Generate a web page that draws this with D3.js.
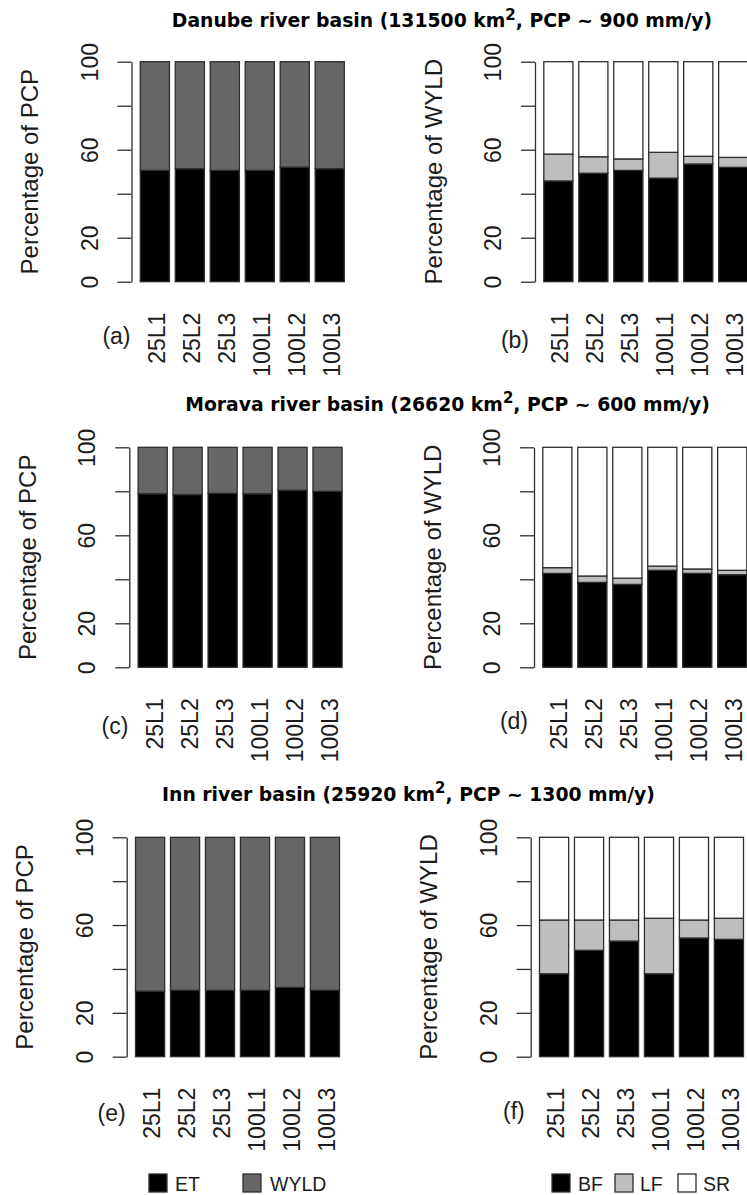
<!DOCTYPE html>
<html>
<head>
<meta charset="utf-8">
<script src="https://cdn.jsdelivr.net/npm/d3@7"></script>
<style>
  html, body { margin: 0; padding: 0; background: #fff; }
  svg { display: block; }
</style>
</head>
<body>
<script>
// Scenario labels shared by every panel
const categories = ["25L1", "25L2", "25L3", "100L1", "100L2", "100L3"];
const yTicks = [0, 20, 40, 60, 80, 100];
const yTickLabels = ["0", "20", "", "60", "", "100"];

// Water balance as percentage of precipitation (ET / WYLD)
const etDanube   = [50.6, 51.4, 50.6, 50.6, 52.1, 51.4];
const wyldDanube = [49.4, 48.6, 49.4, 49.4, 47.9, 48.6];
const etMorava   = [78.9, 78.5, 79.1, 78.9, 80.5, 80.0];
const wyldMorava = [21.1, 21.5, 20.9, 21.1, 19.5, 20.0];
const etInn      = [29.9, 30.3, 30.3, 30.3, 31.6, 30.3];
const wyldInn    = [70.1, 69.7, 69.7, 69.7, 68.4, 69.7];

// Water yield components as percentage of WYLD (BF / LF / SR)
const bfDanube = [45.8, 49.3, 50.6, 47.1, 53.5, 52.0];
const lfDanube = [12.2, 7.5, 5.2, 11.7, 3.5, 4.5];
const srDanube = [42.0, 43.2, 44.2, 41.2, 43.0, 43.5];
const bfMorava = [42.7, 38.6, 37.7, 44.1, 42.7, 42.1];
const lfMorava = [2.6, 2.9, 2.8, 1.9, 2.0, 2.0];
const srMorava = [54.7, 58.5, 59.5, 54.0, 55.3, 55.9];
const bfInn    = [37.8, 48.5, 52.7, 37.8, 54.1, 53.5];
const lfInn    = [24.5, 13.8, 9.6, 25.3, 8.2, 9.6];
const srInn    = [37.7, 37.7, 37.7, 36.9, 37.7, 36.9];

const titles = [
  { pre: "Danube river basin (131500 km", post: ", PCP ~ 900 mm/y)" },
  { pre: "Morava river basin (26620 km",  post: ", PCP ~ 600 mm/y)" },
  { pre: "Inn river basin (25920 km",     post: ", PCP ~ 1300 mm/y)" }
];

const W = 747, H = 1195;
const INK = "#1c1c1c";
const EDGE = "#2e2e2e";
const FONT = "'Liberation Sans', Arial, sans-serif";
const colors = { ET: "#000000", WYLD: "#666666", BF: "#000000", LF: "#bebebe", SR: "#ffffff" };

const svg = d3.select("body").append("svg")
  .attr("width", W).attr("height", H)
  .attr("viewBox", `0 0 ${W} ${H}`);
svg.append("rect").attr("width", W).attr("height", H).attr("fill", "#fff");

function tableOf(keys, arrays) {
  return categories.map((c, i) => {
    const row = { cat: c };
    keys.forEach((k, j) => { row[k] = arrays[j][i]; });
    return row;
  });
}

function drawPanel(p) {
  const g = svg.append("g");
  const x = d3.scaleBand()
    .domain(categories)
    .range([p.ax + 8.8, p.ax + 8.8 + 204])
    .paddingInner(1 / 6)
    .paddingOuter(0);
  const y = d3.scaleLinear().domain([0, 100]).range([p.y0, p.y100]);

  const series = d3.stack().keys(p.keys)(tableOf(p.keys, p.arrays));

  g.selectAll("g.layer")
    .data(series)
    .join("g")
    .attr("class", "layer")
    .attr("fill", d => colors[d.key])
    .selectAll("rect")
    .data(d => d)
    .join("rect")
    .attr("x", d => x(d.data.cat))
    .attr("width", x.bandwidth())
    .attr("y", d => y(d[1]))
    .attr("height", d => y(d[0]) - y(d[1]))
    .attr("stroke", EDGE)
    .attr("stroke-width", 1.3);

  // y axis with vertical tick labels
  const yAxis = g.append("g")
    .attr("transform", `translate(${p.ax},0)`)
    .call(d3.axisLeft(y)
      .tickValues(yTicks)
      .tickSize(14)
      .tickSizeOuter(0)
      .tickFormat((d, i) => yTickLabels[i]));
  yAxis.select(".domain").attr("stroke", EDGE).attr("stroke-width", 1.3);
  yAxis.selectAll(".tick line").attr("stroke", EDGE).attr("stroke-width", 1.3);
  yAxis.selectAll(".tick text")
    .attr("x", null).attr("dy", null)
    .attr("text-anchor", "middle")
    .attr("transform", "translate(-34,0) rotate(-90)")
    .attr("fill", INK)
    .style("font-family", FONT)
    .style("font-size", "23px");

  // scenario labels under the bars
  const xAxis = g.append("g")
    .call(d3.axisBottom(x).tickSize(0));
  xAxis.select(".domain").remove();
  xAxis.selectAll(".tick text")
    .attr("y", null).attr("dy", null)
    .attr("text-anchor", "end")
    .attr("transform", `translate(10,${p.y0 + 31}) rotate(-90)`)
    .attr("fill", INK)
    .style("font-family", FONT)
    .style("font-size", "23px");

  // axis title
  g.append("text")
    .attr("transform", `translate(${p.ax - 93.5},${(p.y0 + p.y100) / 2}) rotate(-90)`)
    .attr("text-anchor", "middle")
    .attr("fill", INK)
    .style("font-family", FONT)
    .style("font-size", "24px")
    .text(p.ylab);

  // panel tag
  g.append("text")
    .attr("x", p.tagX).attr("y", p.tagY)
    .attr("text-anchor", "end")
    .attr("fill", INK)
    .style("font-family", FONT)
    .style("font-size", "23px")
    .text(p.tag);
}

const rows = [
  { y0: 281.7, y100: 61.7, axL: 131.5, axR: 535.0, titleX: 442, titleY: 27,
    et: [etDanube, wyldDanube], wy: [bfDanube, lfDanube, srDanube], tags: ["(a)", "(b)"],
    tagY: [344, 348] },
  { y0: 667.3, y100: 447.3, axL: 129.3, axR: 534.0, titleX: 447.5, titleY: 410.5,
    et: [etMorava, wyldMorava], wy: [bfMorava, lfMorava, srMorava], tags: ["(c)", "(d)"],
    tagY: [734, 729] },
  { y0: 1056.7, y100: 837.3, axL: 126.7, axR: 530.7, titleX: 408.5, titleY: 800.5,
    et: [etInn, wyldInn], wy: [bfInn, lfInn, srInn], tags: ["(e)", "(f)"],
    tagY: [1121, 1119] }
];

rows.forEach((r, i) => {
  drawPanel({ ax: r.axL, y0: r.y0, y100: r.y100, keys: ["ET", "WYLD"], arrays: r.et,
    ylab: "Percentage of PCP", tag: r.tags[0], tagX: r.axL - 1, tagY: r.tagY[0] });
  drawPanel({ ax: r.axR, y0: r.y0, y100: r.y100, keys: ["BF", "LF", "SR"], arrays: r.wy,
    ylab: "Percentage of WYLD", tag: r.tags[1], tagX: r.axR - 6, tagY: r.tagY[1] });

  const t = svg.append("text")
    .attr("x", r.titleX).attr("y", r.titleY)
    .attr("text-anchor", "middle")
    .attr("fill", "#000")
    .style("font-family", "'DejaVu Sans', Verdana, sans-serif")
    .style("font-weight", "bold")
    .style("font-size", "18.8px");
  t.append("tspan").text(titles[i].pre);
  t.append("tspan").attr("dy", -7.5).style("font-size", "15px").text("2");
  t.append("tspan").attr("dy", 7.5).text(titles[i].post);
});

// legends
const legendLeft = [
  { key: "ET",   sx: 149, tx: 175 },
  { key: "WYLD", sx: 243, tx: 270 }
];
const legendRight = [
  { key: "BF", sx: 552, tx: 578 },
  { key: "LF", sx: 615, tx: 640 },
  { key: "SR", sx: 678, tx: 703 }
];
const legendItems = legendLeft.concat(legendRight);
const legend = svg.append("g");
legend.selectAll("rect")
  .data(legendItems)
  .join("rect")
  .attr("x", d => d.sx).attr("y", 1174)
  .attr("width", 18).attr("height", 18)
  .attr("fill", d => colors[d.key])
  .attr("stroke", EDGE).attr("stroke-width", 1.3);
legend.selectAll("text")
  .data(legendItems)
  .join("text")
  .attr("x", d => d.tx).attr("y", 1191)
  .attr("fill", INK)
  .style("font-family", FONT)
  .style("font-size", "19.5px")
  .text(d => d.key);
</script>
</body>
</html>
